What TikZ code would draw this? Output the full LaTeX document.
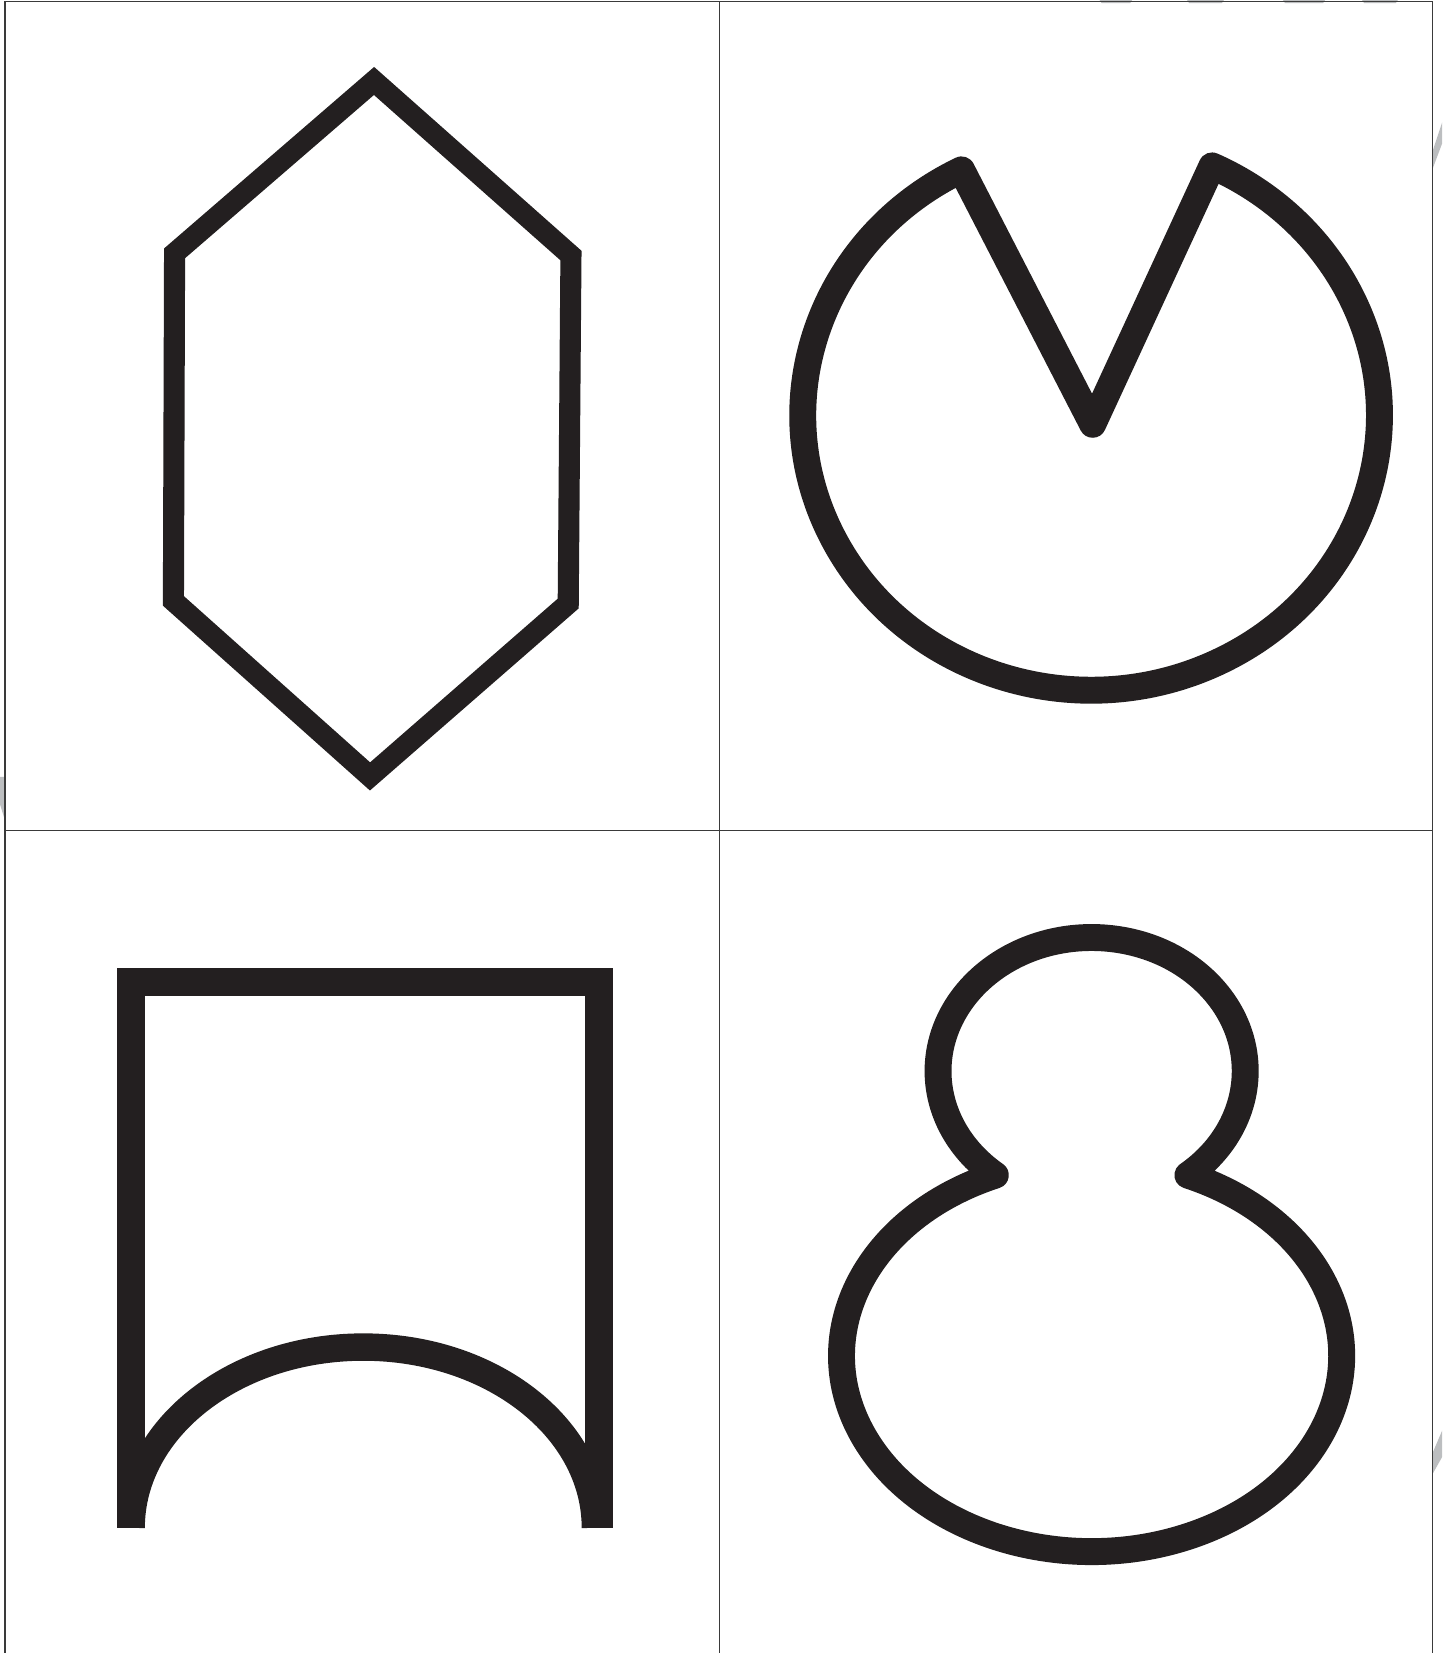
\documentclass[tikz,border=0pt]{standalone}
\usetikzlibrary{calc}
\definecolor{shapecol}{HTML}{231F20}
\definecolor{gridcol}{HTML}{3A3A3A}
\definecolor{ghostcol}{HTML}{BCBEC0}
\begin{document}
\begin{tikzpicture}[x=0.01cm,y=0.01cm,
  gridline/.style={draw=gridcol,line width=0.36pt},
  ghost/.style={fill=ghostcol,draw=none},
  thinshape/.style={draw=shapecol,line width=5.69pt,line join=miter,miter limit=10},
  thickshape/.style={draw=shapecol,line width=7.26pt},
  roundshape/.style={thickshape,line join=round,line cap=round},
  archshape/.style={draw=shapecol,line width=7.4pt,line join=miter,line cap=butt}]
\useasboundingbox[fill=white] (0,0) rectangle (1368,1568);

% faint fragments at the edges
\fill[ghost] (1043,1568) -- (1074,1568) -- (1072,1565) -- (1045,1565) -- cycle;
\fill[ghost] (1126,1568) -- (1161,1568) -- (1159,1565) -- (1128,1565) -- cycle;
\fill[ghost] (1217,1568) -- (1257,1568) -- (1255,1565) -- (1219,1565) -- cycle;
\fill[ghost] (1292,1568) -- (1326,1568) -- (1324,1565) -- (1294,1565) -- cycle;
\fill[ghost] (1359,1408) -- (1368,1432) -- (1368,1452) -- (1359,1425) -- cycle;
\fill[ghost] (1359,190) -- (1368,211) -- (1368,186) -- (1359,170) -- cycle;
\fill[ghost] (0,831) -- (4.7,831) -- (4.7,790) -- (0,805) -- cycle;

% grid
\coordinate (gTL) at (4.7,1566.4);
\coordinate (gTR) at (1358.8,1566.4);
\coordinate (gBL) at (4.7,0);
\coordinate (gBR) at (1358.8,0);
\coordinate (gMT) at (682.5,1566.4);
\coordinate (gMB) at (682.5,0);
\coordinate (gHL) at (4.7,780);
\coordinate (gHR) at (1358.8,780);
\draw[gridline] (gBL) -- (gTL) -- (gTR) -- (gBR);
\draw[gridline] (gMT) -- (gMB);
\draw[gridline] (gHL) -- (gHR);

% top-left hexagon
\coordinate (hT) at (354.8,1491.2);
\coordinate (hUL) at (165.6,1327.7);
\coordinate (hLL) at (164.5,998);
\coordinate (hB) at (351,831.5);
\coordinate (hLR) at (539,995.5);
\coordinate (hUR) at (541.6,1325.6);
\draw[thinshape] (hT) -- (hUL) -- (hLL) -- (hB) -- (hLR) -- (hUR) -- cycle;

% top-right notched ellipse
\coordinate (pC) at (1035,1174);
\coordinate (pApex) at (1036.5,1165.5);
\draw[roundshape] (pApex) -- ($(pC)+(116.7:273.5 and 260.7)$)
  arc[start angle=116.7,end angle=425.2,x radius=273.5,y radius=260.7] -- cycle;

% bottom-left arch shape
\coordinate (aL) at (124.4,118.7);
\coordinate (aLT) at (124.4,636.5);
\coordinate (aRT) at (568.2,636.5);
\coordinate (aR) at (568.2,118.7);
\coordinate (aC) at (344.6,118.7);
\draw[archshape] (aL) -- (aLT) -- (aRT) -- (aR);
\draw[archshape] ($(aC)+(180:220.2 and 171.5)$)
  arc[start angle=180,end angle=0,x radius=220.2,y radius=171.5];

% bottom-right double ellipse
\coordinate (sC1) at (1035.5,552);
\coordinate (sC2) at (1035.5,282);
\draw[roundshape] ($(sC1)+(-51.18:145.7 and 126.7)$)
  arc[start angle=-51.18,end angle=231.18,x radius=145.7,y radius=126.7]
  arc[start angle=112.64,end angle=427.36,x radius=237.2,y radius=185.7]
  -- cycle;
\end{tikzpicture}
\end{document}
